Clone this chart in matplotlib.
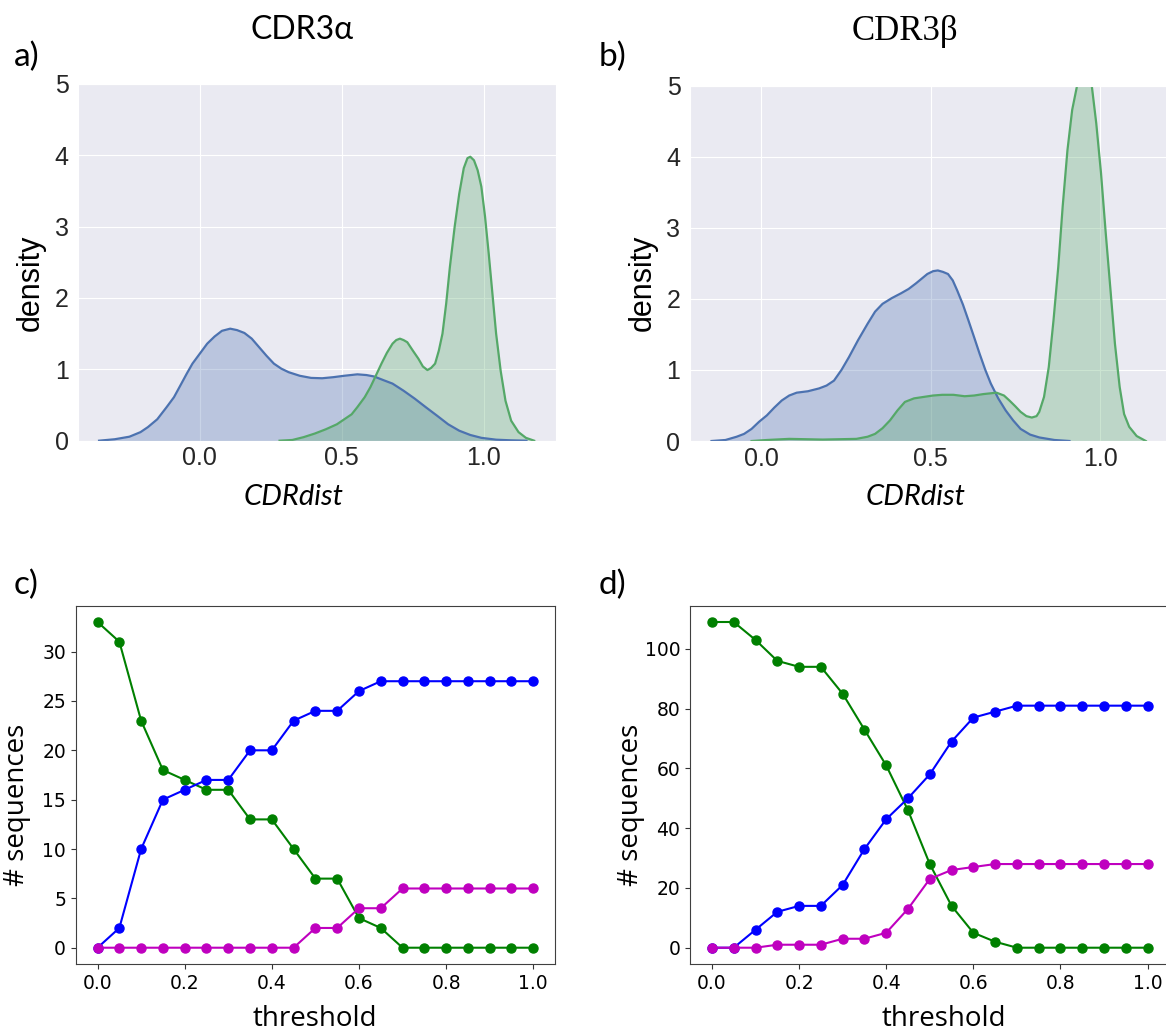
import matplotlib
matplotlib.use("Agg")
import matplotlib.pyplot as plt
import seaborn as sns

# density of CDRdist, CDR3 alpha (sampled along each curve)
alpha_blue_x = [-0.355, -0.300, -0.248, -0.209, -0.183, -0.150, -0.117, -0.091, -0.065, -0.046, -0.026,
                0.0, 0.026, 0.052, 0.078, 0.107, 0.131, 0.157, 0.183, 0.209, 0.235, 0.261, 0.287,
                0.313, 0.352, 0.392, 0.431, 0.47, 0.509, 0.555, 0.587, 0.614, 0.646, 0.679, 0.718,
                0.757, 0.796, 0.836, 0.875, 0.914, 0.953, 0.992, 1.044, 1.097, 1.151]
alpha_blue_y = [0.0, 0.02, 0.056, 0.12, 0.19, 0.30, 0.47, 0.61, 0.80, 0.94, 1.08,
                1.22, 1.36, 1.46, 1.54, 1.57, 1.55, 1.51, 1.43, 1.31, 1.19, 1.08, 1.01,
                0.96, 0.91, 0.88, 0.875, 0.89, 0.91, 0.93, 0.92, 0.90, 0.85, 0.80, 0.70,
                0.59, 0.47, 0.35, 0.23, 0.14, 0.08, 0.04, 0.014, 0.005, 0.0]
alpha_green_x = [0.281, 0.326, 0.366, 0.405, 0.444, 0.483, 0.509, 0.535, 0.555, 0.581, 0.601, 0.620,
                 0.640, 0.659, 0.679, 0.692, 0.705, 0.718, 0.731, 0.751, 0.770, 0.786, 0.802, 0.815,
                 0.829, 0.842, 0.855, 0.868, 0.881, 0.898, 0.914, 0.930, 0.943, 0.953, 0.966, 0.979,
                 0.992, 1.005, 1.018, 1.031, 1.044, 1.060, 1.077, 1.097, 1.123, 1.149, 1.178]
alpha_green_y = [0.0, 0.01, 0.05, 0.10, 0.16, 0.23, 0.30, 0.37, 0.47, 0.61, 0.75, 0.91,
                 1.08, 1.23, 1.36, 1.41, 1.43, 1.41, 1.38, 1.26, 1.15, 1.04, 0.99, 1.02,
                 1.08, 1.26, 1.50, 1.92, 2.43, 3.00, 3.46, 3.82, 3.96, 3.98, 3.93, 3.79,
                 3.56, 3.14, 2.62, 2.06, 1.50, 0.98, 0.56, 0.28, 0.12, 0.04, 0.0]

# density of CDRdist, CDR3 beta
beta_blue_x = [-0.146, -0.105, -0.072, -0.050, -0.028, -0.006, 0.017, 0.039, 0.061, 0.083, 0.105,
               0.138, 0.171, 0.193, 0.215, 0.237, 0.259, 0.286, 0.314, 0.336, 0.358, 0.385, 0.413,
               0.435, 0.457, 0.490, 0.507, 0.521, 0.536, 0.551, 0.565, 0.578, 0.595, 0.611, 0.628,
               0.644, 0.661, 0.677, 0.699, 0.721, 0.743, 0.765, 0.793, 0.820, 0.865, 0.909]
beta_blue_y = [0.0, 0.014, 0.06, 0.10, 0.17, 0.27, 0.36, 0.47, 0.57, 0.64, 0.68,
               0.70, 0.74, 0.78, 0.85, 1.00, 1.18, 1.42, 1.65, 1.82, 1.93, 2.01, 2.08,
               2.14, 2.22, 2.35, 2.39, 2.40, 2.38, 2.35, 2.26, 2.12, 1.92, 1.70, 1.46,
               1.23, 1.00, 0.81, 0.60, 0.43, 0.29, 0.17, 0.09, 0.05, 0.014, 0.0]
beta_green_x = [-0.028, 0.017, 0.083, 0.182, 0.281, 0.314, 0.336, 0.358, 0.380, 0.402, 0.424, 0.451,
                0.479, 0.507, 0.534, 0.567, 0.600, 0.628, 0.655, 0.694, 0.716, 0.732, 0.749, 0.765,
                0.782, 0.798, 0.812, 0.820, 0.834, 0.848, 0.862, 0.876, 0.889, 0.903, 0.917, 0.931,
                0.942, 0.953, 0.964, 0.975, 0.988, 1.002, 1.016, 1.030, 1.043, 1.057, 1.070, 1.085,
                1.107, 1.134]
beta_green_y = [0.0, 0.014, 0.03, 0.02, 0.03, 0.06, 0.10, 0.18, 0.29, 0.43, 0.55, 0.60,
                0.62, 0.64, 0.65, 0.65, 0.63, 0.64, 0.66, 0.68, 0.64, 0.57, 0.49, 0.41,
                0.35, 0.33, 0.35, 0.41, 0.62, 1.04, 1.70, 2.45, 3.30, 4.09, 4.66, 4.99,
                5.15, 5.22, 5.15, 4.99, 4.47, 3.77, 2.92, 2.12, 1.37, 0.76, 0.38, 0.20,
                0.07, 0.0]

# number of sequences per threshold
threshold = [0.0, 0.05, 0.1, 0.15, 0.2, 0.25, 0.3, 0.35, 0.4, 0.45, 0.5,
             0.55, 0.6, 0.65, 0.7, 0.75, 0.8, 0.85, 0.9, 0.95, 1.0]
alpha_green = [33, 31, 23, 18, 17, 16, 16, 13, 13, 10, 7, 7, 3, 2, 0, 0, 0, 0, 0, 0, 0]
alpha_blue = [0, 2, 10, 15, 16, 17, 17, 20, 20, 23, 24, 24, 26, 27, 27, 27, 27, 27, 27, 27, 27]
alpha_magenta = [0, 0, 0, 0, 0, 0, 0, 0, 0, 0, 2, 2, 4, 4, 6, 6, 6, 6, 6, 6, 6]
beta_green = [109, 109, 103, 96, 94, 94, 85, 73, 61, 46, 28, 14, 5, 2, 0, 0, 0, 0, 0, 0, 0]
beta_blue = [0, 0, 6, 12, 14, 14, 21, 33, 43, 50, 58, 69, 77, 79, 81, 81, 81, 81, 81, 81, 81]
beta_magenta = [0, 0, 0, 1, 1, 1, 3, 3, 5, 13, 23, 26, 27, 28, 28, 28, 28, 28, 28, 28, 28]

W, H = 1166, 1034
fig = plt.figure(figsize=(W / 100, H / 100), dpi=100)

def px(x, y):
    return x / W, 1 - y / H

def kde_panel(rect, curves, xlim):
    with sns.axes_style("darkgrid"):
        ax = fig.add_axes(rect)
    for xs, ys, col in curves:
        ax.fill_between(xs, ys, color=col, alpha=0.3, linewidth=0)
        ax.plot(xs, ys, color=col, linewidth=1.6)
    ax.set_xlim(*xlim)
    ax.set_ylim(0, 5)
    ax.set_xticks([0.0, 0.5, 1.0])
    ax.set_xticklabels(["0.0", "0.5", "1.0"])
    ax.set_yticks([0, 1, 2, 3, 4, 5])
    ax.tick_params(axis="x", length=0, pad=4, labelsize=18, labelcolor=".15")
    ax.tick_params(axis="y", length=0, pad=7, labelsize=18, labelcolor=".15")
    for lab in ax.get_xticklabels() + ax.get_yticklabels():
        lab.set_family("Liberation Sans")
    return ax

def count_panel(rect, green, blue, magenta):
    ax = fig.add_axes(rect)
    ax.plot(threshold, green, "g-o", markersize=6.5, linewidth=1.5)
    ax.plot(threshold, blue, "b-o", markersize=6.5, linewidth=1.5)
    ax.plot(threshold, magenta, "m-o", markersize=6.5, linewidth=1.5)
    ax.set_xticks([0.0, 0.2, 0.4, 0.6, 0.8, 1.0])
    ax.tick_params(labelsize=13.5, color="0.2")
    for sp in ax.spines.values():
        sp.set_color("0.25")
    return ax

blue_c, green_c = "#4C72B0", "#55A868"

kde_panel([0.0672, 0.5738, 0.4094, 0.345],
          [(alpha_blue_x, alpha_blue_y, blue_c), (alpha_green_x, alpha_green_y, green_c)],
          (-0.428, 1.254))
kde_panel([0.5919, 0.5735, 0.4094, 0.3436],
          [(beta_blue_x, beta_blue_y, blue_c), (beta_green_x, beta_green_y, green_c)],
          (-0.209, 1.198))
count_panel([0.065, 0.0677, 0.411, 0.3465], alpha_green, alpha_blue, alpha_magenta)
count_panel([0.5919, 0.0677, 0.411, 0.3465], beta_green, beta_blue, beta_magenta)

# titles and labels
fig.text(*px(302, 30), "CDR3\u03b1", family="Lato", fontsize=23, ha="center", va="center")
fig.text(*px(905, 31), "CDR3\u03b2", family="Liberation Serif", fontsize=25, ha="center", va="center")
for x, y, s in [(14, 57, "a)"), (599, 57, "b)"), (14, 585, "c)"), (599, 585, "d)")]:
    fig.text(*px(x, y), s, family="Lato", fontsize=24, ha="left", va="center")
for x in (31, 643):
    fig.text(*px(x, 283), "density", family="Liberation Sans", fontsize=22,
             rotation=90, ha="center", va="center")
for x in (294, 916):
    fig.text(*px(x, 497), "CDRdist", family="Lato", style="italic", fontsize=21,
             ha="center", va="center")
for x in (315, 944):
    fig.text(*px(x, 1019), "threshold", family="Open Sans", fontsize=20, ha="center", va="center")
for x in (17, 631):
    fig.text(*px(x, 805), "# sequences", family="Open Sans", fontsize=20,
             rotation=90, ha="center", va="center")

fig.savefig("out.png", dpi=100)
